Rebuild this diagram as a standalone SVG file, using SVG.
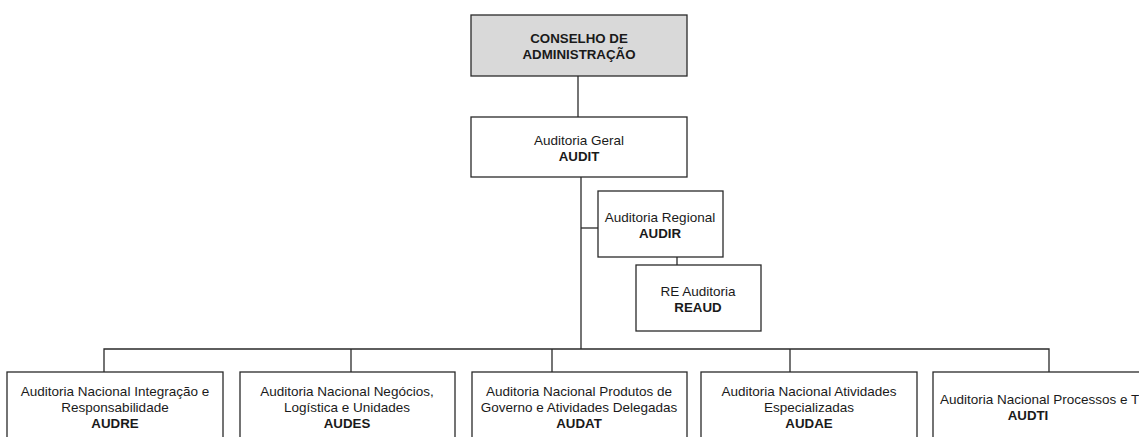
<svg xmlns="http://www.w3.org/2000/svg" width="1139" height="437" viewBox="0 0 1139 437">
<style>
.box{fill:#ffffff;stroke:#2a2a2a;stroke-width:1.3}
.grey{fill:#d9d9d9}
.conn{fill:none;stroke:#2a2a2a;stroke-width:1.3}
text{font-family:"Liberation Sans",Arial,sans-serif;font-size:13.5px;fill:#1a1a1a;text-anchor:middle}
.b{font-weight:bold;font-size:13.3px}
</style>
<rect width="1139" height="437" fill="#ffffff"/>
<g id="connectors">
<path class="conn" d="M578 76V117"/>
<path class="conn" d="M581 177V349"/>
<path class="conn" d="M581 228H598"/>
<path class="conn" d="M677 257V265"/>
<path class="conn" d="M104 372V349H1049V372"/>
<path class="conn" d="M351 349V372"/>
<path class="conn" d="M552 349V372"/>
<path class="conn" d="M790 349V372"/>
</g>
<g id="conselho">
<rect class="box grey" x="471" y="15" width="216" height="61"/>
<text class="b" x="579" y="43">CONSELHO DE</text>
<text class="b" x="579" y="59">ADMINISTRAÇÃO</text>
</g>
<g id="audit">
<rect class="box" x="471" y="117" width="216" height="60"/>
<text x="579" y="145">Auditoria Geral</text>
<text class="b" x="579" y="161">AUDIT</text>
</g>
<g id="audir">
<rect class="box" x="598" y="191" width="125" height="66"/>
<text x="660" y="222">Auditoria Regional</text>
<text class="b" x="660" y="238">AUDIR</text>
</g>
<g id="reaud">
<rect class="box" x="636" y="265" width="125" height="66"/>
<text x="698" y="296">RE Auditoria</text>
<text class="b" x="698" y="312">REAUD</text>
</g>
<g id="audre">
<rect class="box" x="7" y="372" width="216" height="80"/>
<text x="115" y="396">Auditoria Nacional Integração e</text>
<text x="115" y="412">Responsabilidade</text>
<text class="b" x="115" y="428">AUDRE</text>
</g>
<g id="audes">
<rect class="box" x="240" y="372" width="215" height="80"/>
<text x="347" y="396">Auditoria Nacional Negócios,</text>
<text x="347" y="412">Logística e Unidades</text>
<text class="b" x="347" y="428">AUDES</text>
</g>
<g id="audat">
<rect class="box" x="472" y="372" width="215" height="80"/>
<text x="579" y="396">Auditoria Nacional Produtos de</text>
<text x="579" y="412">Governo e Atividades Delegadas</text>
<text class="b" x="579" y="428">AUDAT</text>
</g>
<g id="audae">
<rect class="box" x="701" y="372" width="216" height="80"/>
<text x="809" y="396">Auditoria Nacional Atividades</text>
<text x="809" y="412">Especializadas</text>
<text class="b" x="809" y="428">AUDAE</text>
</g>
<g id="audti">
<rect class="box" x="933" y="372" width="230" height="80"/>
<text x="940" y="404" style="text-anchor:start">Auditoria Nacional Processos e T</text>
<text class="b" x="1028" y="420">AUDTI</text>
</g>
</svg>
